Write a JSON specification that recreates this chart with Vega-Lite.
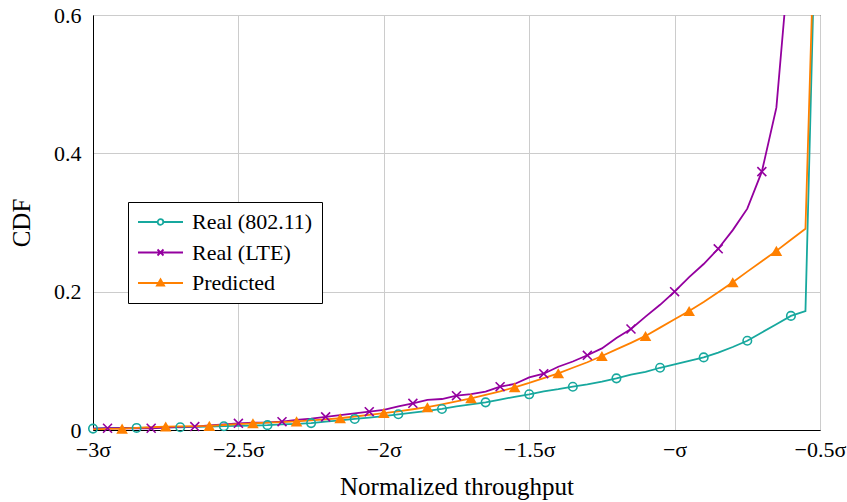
{
  "$schema": "https://vega.github.io/schema/vega-lite/v6.json",
  "width": 727,
  "height": 415,
  "autosize": "none",
  "padding": {"left": 93, "top": 15, "right": 27, "bottom": 72},
  "background": "white",
  "config": {
    "font": "'Liberation Serif', 'DejaVu Serif', 'Times New Roman', Times, serif",
    "view": {"stroke": "#000", "strokeWidth": 1},
    "axis": {
      "labelFont": "'Liberation Serif', 'DejaVu Serif', 'Times New Roman', Times, serif",
      "titleFont": "'Liberation Serif', 'DejaVu Serif', 'Times New Roman', Times, serif",
      "labelFontSize": 22,
      "titleFontSize": 25,
      "titleFontWeight": "normal",
      "labelColor": "#000",
      "titleColor": "#000",
      "gridColor": "#cccccc",
      "gridWidth": 1,
      "domainColor": "#000",
      "ticks": false
    },
    "legend": {
      "labelFont": "'Liberation Serif', 'DejaVu Serif', 'Times New Roman', Times, serif"
    }
  },
  "data": {
    "values": [
      {"s": "Real (802.11)", "x": -3.0, "y": 0.002, "m": 1},
      {"s": "Real (802.11)", "x": -2.95, "y": 0.0025},
      {"s": "Real (802.11)", "x": -2.9, "y": 0.003},
      {"s": "Real (802.11)", "x": -2.85, "y": 0.003, "m": 1},
      {"s": "Real (802.11)", "x": -2.8, "y": 0.0035},
      {"s": "Real (802.11)", "x": -2.75, "y": 0.004},
      {"s": "Real (802.11)", "x": -2.7, "y": 0.004, "m": 1},
      {"s": "Real (802.11)", "x": -2.65, "y": 0.0045},
      {"s": "Real (802.11)", "x": -2.6, "y": 0.005},
      {"s": "Real (802.11)", "x": -2.55, "y": 0.0055, "m": 1},
      {"s": "Real (802.11)", "x": -2.5, "y": 0.006},
      {"s": "Real (802.11)", "x": -2.45, "y": 0.0065},
      {"s": "Real (802.11)", "x": -2.4, "y": 0.007, "m": 1},
      {"s": "Real (802.11)", "x": -2.35, "y": 0.008},
      {"s": "Real (802.11)", "x": -2.3, "y": 0.009},
      {"s": "Real (802.11)", "x": -2.25, "y": 0.010, "m": 1},
      {"s": "Real (802.11)", "x": -2.2, "y": 0.012},
      {"s": "Real (802.11)", "x": -2.15, "y": 0.014},
      {"s": "Real (802.11)", "x": -2.1, "y": 0.016, "m": 1},
      {"s": "Real (802.11)", "x": -2.05, "y": 0.018},
      {"s": "Real (802.11)", "x": -2.0, "y": 0.020},
      {"s": "Real (802.11)", "x": -1.95, "y": 0.0227, "m": 1},
      {"s": "Real (802.11)", "x": -1.9, "y": 0.025},
      {"s": "Real (802.11)", "x": -1.85, "y": 0.0275},
      {"s": "Real (802.11)", "x": -1.8, "y": 0.0304, "m": 1},
      {"s": "Real (802.11)", "x": -1.75, "y": 0.034},
      {"s": "Real (802.11)", "x": -1.7, "y": 0.037},
      {"s": "Real (802.11)", "x": -1.65, "y": 0.040, "m": 1},
      {"s": "Real (802.11)", "x": -1.6, "y": 0.044},
      {"s": "Real (802.11)", "x": -1.55, "y": 0.048},
      {"s": "Real (802.11)", "x": -1.5, "y": 0.0516, "m": 1},
      {"s": "Real (802.11)", "x": -1.45, "y": 0.056},
      {"s": "Real (802.11)", "x": -1.4, "y": 0.059},
      {"s": "Real (802.11)", "x": -1.35, "y": 0.0626, "m": 1},
      {"s": "Real (802.11)", "x": -1.3, "y": 0.066},
      {"s": "Real (802.11)", "x": -1.25, "y": 0.070},
      {"s": "Real (802.11)", "x": -1.2, "y": 0.0747, "m": 1},
      {"s": "Real (802.11)", "x": -1.15, "y": 0.080},
      {"s": "Real (802.11)", "x": -1.1, "y": 0.084},
      {"s": "Real (802.11)", "x": -1.05, "y": 0.090, "m": 1},
      {"s": "Real (802.11)", "x": -1.0, "y": 0.095},
      {"s": "Real (802.11)", "x": -0.95, "y": 0.100},
      {"s": "Real (802.11)", "x": -0.9, "y": 0.105, "m": 1},
      {"s": "Real (802.11)", "x": -0.85, "y": 0.112},
      {"s": "Real (802.11)", "x": -0.8, "y": 0.120},
      {"s": "Real (802.11)", "x": -0.75, "y": 0.129, "m": 1},
      {"s": "Real (802.11)", "x": -0.7, "y": 0.141},
      {"s": "Real (802.11)", "x": -0.65, "y": 0.153},
      {"s": "Real (802.11)", "x": -0.6, "y": 0.165, "m": 1},
      {"s": "Real (802.11)", "x": -0.55, "y": 0.172},
      {"s": "Real (802.11)", "x": -0.5, "y": 1.0},

      {"s": "Real (LTE)", "x": -3.0, "y": 0.002},
      {"s": "Real (LTE)", "x": -2.95, "y": 0.0025, "m": 1},
      {"s": "Real (LTE)", "x": -2.9, "y": 0.0025},
      {"s": "Real (LTE)", "x": -2.85, "y": 0.0025},
      {"s": "Real (LTE)", "x": -2.8, "y": 0.0025, "m": 1},
      {"s": "Real (LTE)", "x": -2.75, "y": 0.0035},
      {"s": "Real (LTE)", "x": -2.7, "y": 0.0045},
      {"s": "Real (LTE)", "x": -2.65, "y": 0.005, "m": 1},
      {"s": "Real (LTE)", "x": -2.6, "y": 0.0065},
      {"s": "Real (LTE)", "x": -2.55, "y": 0.008},
      {"s": "Real (LTE)", "x": -2.5, "y": 0.0097, "m": 1},
      {"s": "Real (LTE)", "x": -2.45, "y": 0.0105},
      {"s": "Real (LTE)", "x": -2.4, "y": 0.011},
      {"s": "Real (LTE)", "x": -2.35, "y": 0.012, "m": 1},
      {"s": "Real (LTE)", "x": -2.3, "y": 0.0145},
      {"s": "Real (LTE)", "x": -2.25, "y": 0.0165},
      {"s": "Real (LTE)", "x": -2.2, "y": 0.019, "m": 1},
      {"s": "Real (LTE)", "x": -2.15, "y": 0.0215},
      {"s": "Real (LTE)", "x": -2.1, "y": 0.024},
      {"s": "Real (LTE)", "x": -2.05, "y": 0.0265, "m": 1},
      {"s": "Real (LTE)", "x": -2.0, "y": 0.029},
      {"s": "Real (LTE)", "x": -1.95, "y": 0.034},
      {"s": "Real (LTE)", "x": -1.9, "y": 0.0386, "m": 1},
      {"s": "Real (LTE)", "x": -1.85, "y": 0.0435},
      {"s": "Real (LTE)", "x": -1.8, "y": 0.0448},
      {"s": "Real (LTE)", "x": -1.75, "y": 0.0496, "m": 1},
      {"s": "Real (LTE)", "x": -1.7, "y": 0.052},
      {"s": "Real (LTE)", "x": -1.65, "y": 0.0554},
      {"s": "Real (LTE)", "x": -1.6, "y": 0.0626, "m": 1},
      {"s": "Real (LTE)", "x": -1.55, "y": 0.0665},
      {"s": "Real (LTE)", "x": -1.5, "y": 0.076},
      {"s": "Real (LTE)", "x": -1.45, "y": 0.0814, "m": 1},
      {"s": "Real (LTE)", "x": -1.4, "y": 0.0915},
      {"s": "Real (LTE)", "x": -1.35, "y": 0.099},
      {"s": "Real (LTE)", "x": -1.3, "y": 0.108, "m": 1},
      {"s": "Real (LTE)", "x": -1.25, "y": 0.118},
      {"s": "Real (LTE)", "x": -1.2, "y": 0.133},
      {"s": "Real (LTE)", "x": -1.15, "y": 0.146, "m": 1},
      {"s": "Real (LTE)", "x": -1.1, "y": 0.164},
      {"s": "Real (LTE)", "x": -1.05, "y": 0.181},
      {"s": "Real (LTE)", "x": -1.0, "y": 0.200, "m": 1},
      {"s": "Real (LTE)", "x": -0.95, "y": 0.221},
      {"s": "Real (LTE)", "x": -0.9, "y": 0.240},
      {"s": "Real (LTE)", "x": -0.85, "y": 0.262, "m": 1},
      {"s": "Real (LTE)", "x": -0.8, "y": 0.289},
      {"s": "Real (LTE)", "x": -0.75, "y": 0.320},
      {"s": "Real (LTE)", "x": -0.7, "y": 0.3735, "m": 1},
      {"s": "Real (LTE)", "x": -0.65, "y": 0.466},
      {"s": "Real (LTE)", "x": -0.6, "y": 0.71},
      {"s": "Real (LTE)", "x": -0.55, "y": 1.0},
      {"s": "Real (LTE)", "x": -0.5, "y": 1.0},

      {"s": "Predicted", "x": -3.0, "y": 0.001},
      {"s": "Predicted", "x": -2.95, "y": 0.0015},
      {"s": "Predicted", "x": -2.9, "y": 0.002, "m": 1},
      {"s": "Predicted", "x": -2.85, "y": 0.003},
      {"s": "Predicted", "x": -2.8, "y": 0.004},
      {"s": "Predicted", "x": -2.75, "y": 0.005, "m": 1},
      {"s": "Predicted", "x": -2.7, "y": 0.0053},
      {"s": "Predicted", "x": -2.65, "y": 0.0057},
      {"s": "Predicted", "x": -2.6, "y": 0.006, "m": 1},
      {"s": "Predicted", "x": -2.55, "y": 0.0072},
      {"s": "Predicted", "x": -2.5, "y": 0.0085},
      {"s": "Predicted", "x": -2.45, "y": 0.0097, "m": 1},
      {"s": "Predicted", "x": -2.4, "y": 0.0106},
      {"s": "Predicted", "x": -2.35, "y": 0.0115},
      {"s": "Predicted", "x": -2.3, "y": 0.0125, "m": 1},
      {"s": "Predicted", "x": -2.25, "y": 0.014},
      {"s": "Predicted", "x": -2.2, "y": 0.0155},
      {"s": "Predicted", "x": -2.15, "y": 0.017, "m": 1},
      {"s": "Predicted", "x": -2.1, "y": 0.0195},
      {"s": "Predicted", "x": -2.05, "y": 0.022},
      {"s": "Predicted", "x": -2.0, "y": 0.0245, "m": 1},
      {"s": "Predicted", "x": -1.95, "y": 0.027},
      {"s": "Predicted", "x": -1.9, "y": 0.030},
      {"s": "Predicted", "x": -1.85, "y": 0.033, "m": 1},
      {"s": "Predicted", "x": -1.8, "y": 0.0372},
      {"s": "Predicted", "x": -1.75, "y": 0.0415},
      {"s": "Predicted", "x": -1.7, "y": 0.0458, "m": 1},
      {"s": "Predicted", "x": -1.65, "y": 0.0508},
      {"s": "Predicted", "x": -1.6, "y": 0.056},
      {"s": "Predicted", "x": -1.55, "y": 0.0617, "m": 1},
      {"s": "Predicted", "x": -1.5, "y": 0.068},
      {"s": "Predicted", "x": -1.45, "y": 0.075},
      {"s": "Predicted", "x": -1.4, "y": 0.082, "m": 1},
      {"s": "Predicted", "x": -1.35, "y": 0.090},
      {"s": "Predicted", "x": -1.3, "y": 0.098},
      {"s": "Predicted", "x": -1.25, "y": 0.107, "m": 1},
      {"s": "Predicted", "x": -1.2, "y": 0.1165},
      {"s": "Predicted", "x": -1.15, "y": 0.126},
      {"s": "Predicted", "x": -1.1, "y": 0.136, "m": 1},
      {"s": "Predicted", "x": -1.05, "y": 0.148},
      {"s": "Predicted", "x": -1.0, "y": 0.160},
      {"s": "Predicted", "x": -0.95, "y": 0.172, "m": 1},
      {"s": "Predicted", "x": -0.9, "y": 0.185},
      {"s": "Predicted", "x": -0.85, "y": 0.199},
      {"s": "Predicted", "x": -0.8, "y": 0.2135, "m": 1},
      {"s": "Predicted", "x": -0.75, "y": 0.229},
      {"s": "Predicted", "x": -0.7, "y": 0.244},
      {"s": "Predicted", "x": -0.65, "y": 0.259, "m": 1},
      {"s": "Predicted", "x": -0.6, "y": 0.275},
      {"s": "Predicted", "x": -0.55, "y": 0.291},
      {"s": "Predicted", "x": -0.5, "y": 1.0}
    ]
  },
  "layer": [
    {
      "mark": {"type": "line", "strokeWidth": 1.8, "clip": true},
      "encoding": {
        "x": {
          "field": "x",
          "type": "quantitative",
          "scale": {"domain": [-3, -0.5], "nice": false, "zero": false},
          "axis": {
            "values": [-3, -2.5, -2, -1.5, -1, -0.5],
            "labelExpr": "datum.value == -1 ? '−σ' : '−' + (-datum.value) + 'σ'",
            "title": "Normalized throughput",
            "labelPadding": 9,
            "titlePadding": 14,
            "labelFlush": false
          }
        },
        "y": {
          "field": "y",
          "type": "quantitative",
          "scale": {"domain": [0, 0.6], "nice": false, "zero": false},
          "axis": {
            "values": [0, 0.2, 0.4, 0.6],
            "labelExpr": "'' + datum.value",
            "title": "CDF",
            "labelPadding": 12,
            "titlePadding": 19,
            "labelFlush": false
          }
        },
        "color": {
          "field": "s",
          "type": "nominal",
          "scale": {
            "domain": ["Real (802.11)", "Real (LTE)", "Predicted"],
            "range": ["#17a89e", "#94009f", "#ff8000"]
          },
          "legend": {
            "orient": "none",
            "legendX": 35,
            "legendY": 187,
            "title": null,
            "symbolSize": 400,
            "symbolStrokeWidth": 1.8,
            "labelFontSize": 22,
            "labelColor": "#000",
            "labelOffset": 33,
            "labelLimit": 400,
            "padding": 9,
            "rowPadding": 8.5,
            "strokeColor": "#000",
            "fillColor": "#fff",
            "cornerRadius": 0
          }
        }
      }
    },
    {
      "transform": [{"filter": "false"}],
      "mark": {"type": "point", "filled": false, "strokeWidth": 1.8, "opacity": 1},
      "encoding": {
        "x": {"field": "x", "type": "quantitative"},
        "y": {"field": "y", "type": "quantitative"},
        "color": {"field": "s", "type": "nominal"},
        "shape": {
          "field": "s",
          "type": "nominal",
          "scale": {
            "domain": ["Real (802.11)", "Real (LTE)", "Predicted"],
            "range": [
              "M-1,0H0.97M1.53,0H3.5M1.53,0A0.28,0.28 0 1,1 0.97,0A0.28,0.28 0 1,1 1.53,0",
              "M-1,0H3.5M0.95,-0.3L1.55,0.3M0.95,0.3L1.55,-0.3",
              "M-1,0H3.5M1.25,-0.38L1.61,0.25L0.89,0.25ZM1.25,-0.2L1.43,0.13L1.07,0.13ZM1.25,-0.04L1.3,0.05L1.2,0.05Z"
            ]
          },
          "legend": {
            "orient": "none",
            "legendX": 35,
            "legendY": 187,
            "title": null,
            "symbolSize": 400,
            "symbolStrokeWidth": 1.8,
            "labelFontSize": 22,
            "labelColor": "#000",
            "labelOffset": 33,
            "labelLimit": 400,
            "padding": 9,
            "rowPadding": 8.5,
            "strokeColor": "#000",
            "fillColor": "#fff",
            "cornerRadius": 0
          }
        }
      }
    },
    {
      "transform": [{"filter": "datum.m == 1 && datum.s == 'Real (802.11)'"}],
      "mark": {"type": "point", "shape": "circle", "filled": false, "color": "#17a89e", "size": 72, "strokeWidth": 1.6, "opacity": 1},
      "encoding": {
        "x": {"field": "x", "type": "quantitative"},
        "y": {"field": "y", "type": "quantitative"}
      }
    },
    {
      "transform": [{"filter": "datum.m == 1 && datum.s == 'Real (LTE)'"}],
      "mark": {"type": "point", "shape": "M-1,-1L1,1M1,-1L-1,1", "filled": false, "color": "#94009f", "size": 80, "strokeWidth": 1.6, "opacity": 1},
      "encoding": {
        "x": {"field": "x", "type": "quantitative"},
        "y": {"field": "y", "type": "quantitative"}
      }
    },
    {
      "transform": [{"filter": "datum.m == 1 && datum.s == 'Predicted'"}],
      "mark": {"type": "point", "shape": "triangle-up", "filled": true, "color": "#ff8000", "size": 135, "opacity": 1},
      "encoding": {
        "x": {"field": "x", "type": "quantitative"},
        "y": {"field": "y", "type": "quantitative"}
      }
    }
  ]
}
